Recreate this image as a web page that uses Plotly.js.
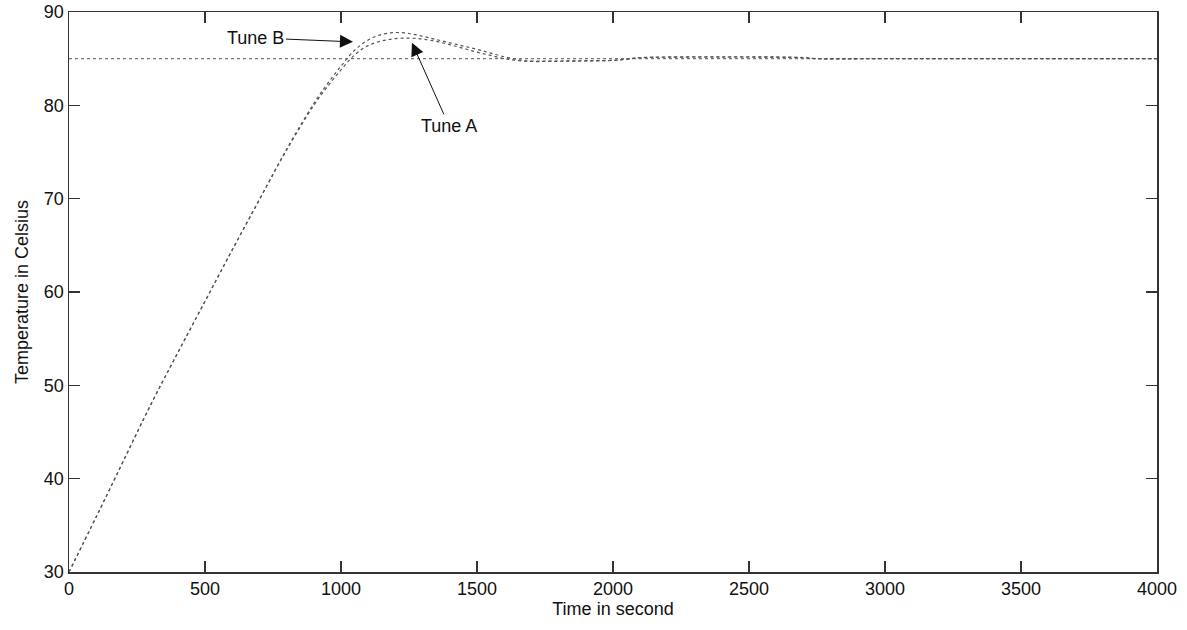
<!DOCTYPE html>
<html>
<head>
<meta charset="utf-8">
<script src="https://cdn.plot.ly/plotly-3.0.1.min.js"></script>
<style>html,body{margin:0;padding:0;background:#fff;}#chart{width:1187px;height:630px;}</style>
</head>
<body>
<div id="chart"></div>
<script>
// Data
const time = [0, 100, 200, 300, 400, 500, 600, 700, 800, 900, 950, 1000, 1050, 1100, 1150, 1200, 1250, 1300, 1350, 1400, 1450, 1500, 1550, 1600, 1650, 1700, 1800, 1900, 2000, 2050, 2100, 2200, 2400, 2600, 2700, 2750, 3000, 4000];
const tuneB = [30, 35.9, 41.9, 47.9, 53.5, 59.0, 64.5, 69.9, 75.3, 80.2, 82.3, 84.2, 85.9, 87.0, 87.6, 87.8, 87.7, 87.4, 87.05, 86.7, 86.35, 86.0, 85.6, 85.2, 84.9, 84.75, 84.75, 84.78, 84.82, 84.95, 85.1, 85.18, 85.2, 85.18, 85.12, 85.0, 85.0, 85.0];
const tuneA = [30, 35.9, 41.9, 47.9, 53.5, 59.0, 64.5, 69.9, 75.2, 80.0, 82.0, 83.8, 85.4, 86.4, 86.9, 87.15, 87.2, 87.1, 86.85, 86.5, 86.1, 85.7, 85.35, 85.0, 84.8, 84.7, 84.72, 84.76, 84.82, 84.95, 85.1, 85.16, 85.18, 85.16, 85.1, 85.0, 85.0, 85.0];
const setpointX = [0, 4000];
const setpointY = [85, 85];
const xTicks = [0, 500, 1000, 1500, 2000, 2500, 3000, 3500, 4000];
const yTicks = [30, 40, 50, 60, 70, 80, 90];

const font = {family: 'Liberation Sans, Arial, sans-serif', size: 18, color: '#111'};

const traces = [
  {x: setpointX, y: setpointY, mode: 'lines', line: {color: '#777', width: 1.2, dash: 'dot'}, hoverinfo: 'skip'},
  {x: time, y: tuneA, mode: 'lines', name: 'Tune A', line: {color: '#555', width: 1.2, dash: 'dot', shape: 'spline'}},
  {x: time, y: tuneB, mode: 'lines', name: 'Tune B', line: {color: '#555', width: 1.2, dash: 'dot', shape: 'spline'}}
];

const axisCommon = {
  showgrid: false, zeroline: false, showline: true, mirror: 'ticks',
  linecolor: '#333', linewidth: 1.5, ticks: 'inside', ticklen: 11, tickwidth: 1.2, tickcolor: '#333',
  tickfont: font
};

const layout = {
  width: 1187, height: 630,
  margin: {l: 69, r: 30, t: 12, b: 58},
  paper_bgcolor: '#fff', plot_bgcolor: '#fff',
  showlegend: false,
  font: font,
  xaxis: Object.assign({}, axisCommon, {
    range: [0, 4000], tickvals: xTicks, ticktext: xTicks.map(String),
    title: {text: 'Time in second', font: font, standoff: 4}
  }),
  yaxis: Object.assign({}, axisCommon, {
    range: [30, 90], tickvals: yTicks, ticktext: yTicks.map(String),
    title: {text: 'Temperature in Celsius', font: font, standoff: 10}
  }),
  annotations: [
    {x: 1044, y: 86.8, xref: 'x', yref: 'y', text: 'Tune B', showarrow: true,
     ax: -97, ay: -4, arrowhead: 2, arrowsize: 2.6, arrowwidth: 1, arrowcolor: '#111', font: font},
    {x: 1261, y: 86.7, xref: 'x', yref: 'y', text: 'Tune A', showarrow: true,
     ax: 37, ay: 83, arrowhead: 2, arrowsize: 2.6, arrowwidth: 1, arrowcolor: '#111', font: font}
  ]
};

Plotly.newPlot('chart', traces, layout, {displayModeBar: false, staticPlot: true});
</script>
</body>
</html>
